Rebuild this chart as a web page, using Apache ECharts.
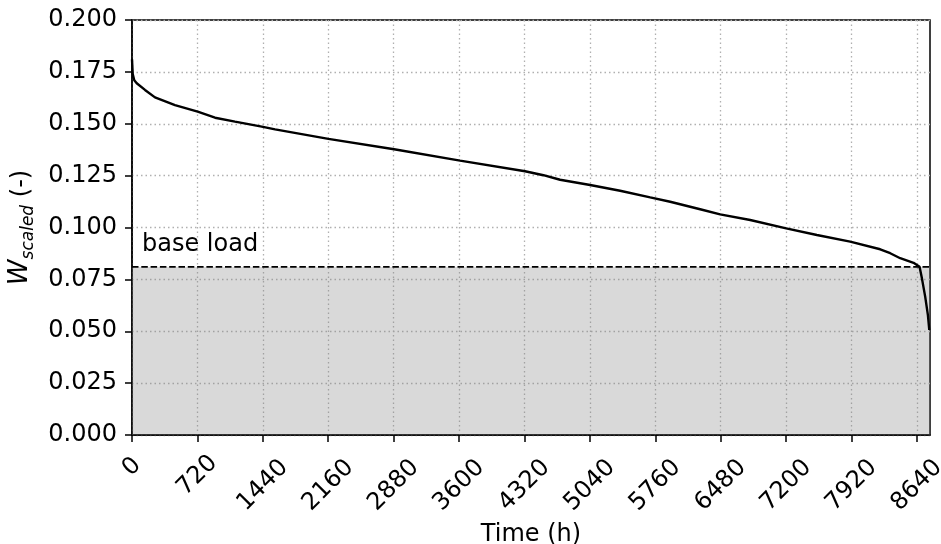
<!DOCTYPE html>
<html><head><meta charset="utf-8">
<script src="https://cdn.jsdelivr.net/npm/echarts@6/dist/echarts.min.js"></script>
<style>html,body{margin:0;padding:0;background:#fff}#c{width:941px;height:544px}</style>
</head><body><div id="c"></div>
<script>
const hours = [0, 8, 25, 52, 143, 253, 473, 723, 914, 1134, 1428, 1575, 2162, 2885, 3611, 4327, 4529, 4712, 5043, 5373, 5704, 5924, 6254, 6474, 6805, 7201, 7539, 7905, 8236, 8346, 8456, 8603, 8669, 8695, 8731, 8761, 8776];
const wScaled = [0.181, 0.174, 0.171, 0.1695, 0.1663, 0.1627, 0.159, 0.1558, 0.1529, 0.151, 0.1486, 0.1473, 0.1427, 0.1377, 0.1322, 0.1271, 0.1252, 0.1230, 0.1205, 0.1177, 0.1145, 0.1124, 0.1088, 0.1063, 0.1036, 0.0996, 0.0964, 0.0932, 0.0895, 0.0876, 0.0852, 0.0830, 0.0811, 0.0755, 0.0667, 0.0578, 0.0506];
const baseLoad = 0.081;
const xMax = 8784;
const xTicks = [0, 720, 1440, 2160, 2880, 3600, 4320, 5040, 5760, 6480, 7200, 7920, 8640];

const FONT = 'DejaVu Sans';
const FS = 24;
const chart = echarts.init(document.getElementById('c'), null, {renderer: 'canvas'});
const dotted = [1.5, 3];
chart.setOption({
  animation: false,
  backgroundColor: '#fff',
  grid: {left: 132, right: 11, top: 20, bottom: 109, show: true, borderColor: '#000', borderWidth: 1.5,
         backgroundColor: 'transparent', containLabel: false, outerBoundsMode: 'none'},
  xAxis: {
    type: 'value', min: 0, max: xMax, interval: 720,
    name: 'Time (h)', nameLocation: 'middle', nameGap: 84,
    nameTextStyle: {fontFamily: FONT, fontSize: FS, color: '#000'},
    axisLine: {lineStyle: {color: '#000', width: 1.5}},
    axisTick: {show: true, length: 7, lineStyle: {color: '#000', width: 1.5}, customValues: xTicks},
    splitLine: {show: true, lineStyle: {color: '#b0b0b0', width: 1.3, type: dotted}},
    axisLabel: {
      customValues: xTicks,
      rotate: 45, align: 'center', verticalAlign: 'middle', margin: 32,
      fontFamily: FONT, fontSize: FS, color: '#000',
      formatter: v => { const s = String(v); const k = s.length >= 4 ? 'a' : (s.length === 3 ? 'b' : 'c'); return '{' + k + '|' + s + '}'; },
      rich: {
        a: {fontFamily: FONT, fontSize: FS, color: '#000', padding: [26, 26, 0, 0]},
        b: {fontFamily: FONT, fontSize: FS, color: '#000', padding: [12, 12, 0, 0]},
        c: {fontFamily: FONT, fontSize: FS, color: '#000', padding: [0, 0, 0, 0]}
      }
    }
  },
  yAxis: {
    type: 'value', min: 0, max: 0.2, interval: 0.025,
    name: '{i|W}{s|scaled}{n| (-)}', nameLocation: 'middle', nameGap: 96,
    nameTextStyle: {
      fontFamily: FONT, fontSize: FS, color: '#000',
      rich: {
        i: {fontFamily: FONT, fontSize: 26, fontStyle: 'italic', color: '#000', lineHeight: 30, verticalAlign: 'bottom'},
        s: {fontFamily: FONT, fontSize: 17, fontStyle: 'italic', color: '#000', lineHeight: 19, verticalAlign: 'bottom', padding: [0, 0, -4, 0]},
        n: {fontFamily: FONT, fontSize: FS, color: '#000', lineHeight: 30, verticalAlign: 'bottom'}
      }
    },
    axisLine: {show: true, lineStyle: {color: '#000', width: 1.5}},
    axisTick: {show: true, length: 7, lineStyle: {color: '#000', width: 1.5}},
    splitLine: {show: true, lineStyle: {color: '#b0b0b0', width: 1.3, type: dotted}},
    axisLabel: {margin: 15, fontFamily: FONT, fontSize: FS, color: '#000', formatter: v => v.toFixed(3)}
  },
  series: [
    {
      type: 'line', data: [[0, baseLoad], [xMax, baseLoad]], symbol: 'none', silent: true,
      lineStyle: {color: '#000', width: 1.8, type: [6.5, 2.8]},
      areaStyle: {color: 'rgba(128,128,128,0.3)', opacity: 1, origin: 'start'},
      z: 2
    },
    {
      type: 'line', data: hours.map((h, i) => [h, wScaled[i]]), symbol: 'none', silent: true,
      lineStyle: {color: '#000', width: 2.4}, z: 3
    }
  ],
  graphic: [
    {type: 'text', left: 142, top: 233, style: {text: 'base load', fontFamily: FONT, fontSize: FS, fill: '#000'}}
  ]
});
</script></body></html>
